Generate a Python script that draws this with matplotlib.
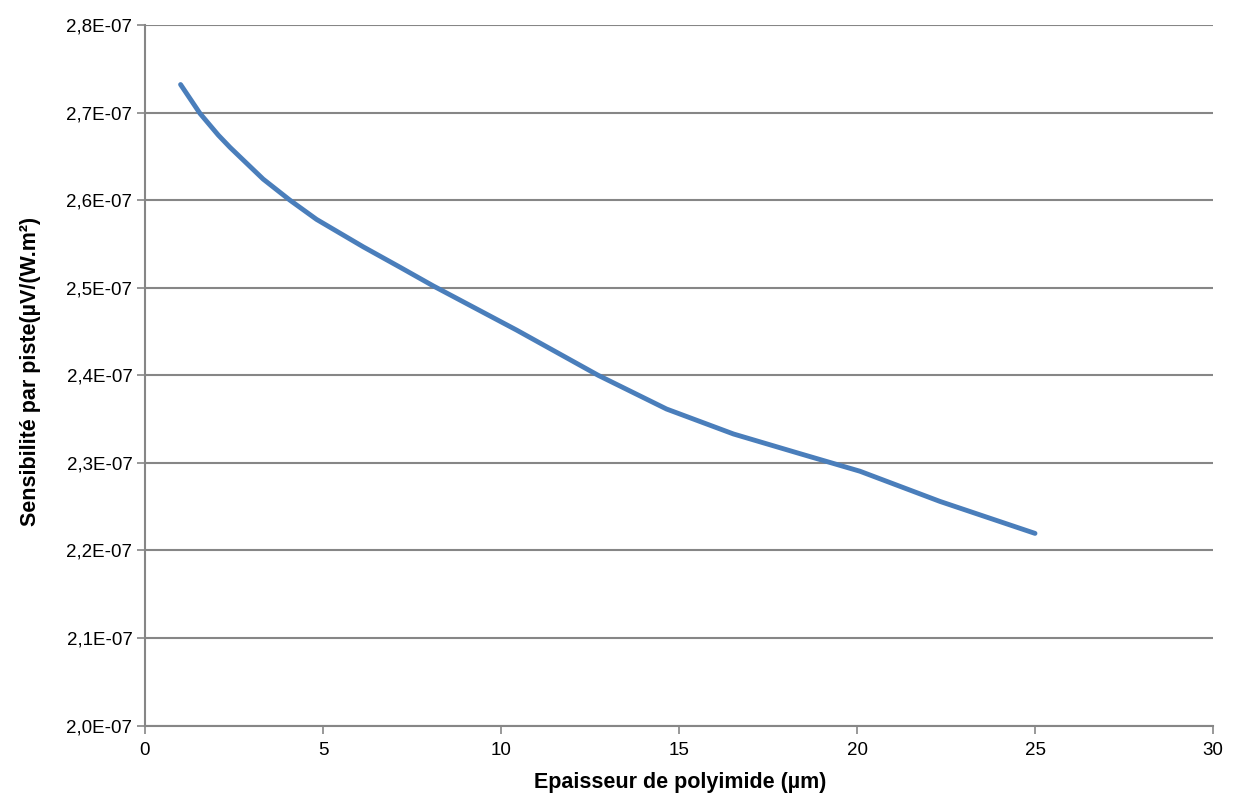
import matplotlib
matplotlib.use("Agg")
import matplotlib.pyplot as plt
from matplotlib.ticker import FuncFormatter, MultipleLocator

# polyimide thickness (um) and sensitivity per track (x 1e-7 uV/(W.m2))
thickness = [1.0, 1.545, 2.06, 2.39, 2.86, 3.32, 4.07, 4.82, 6.13, 7.16,
             8.10, 10.44, 12.73, 14.65, 16.53, 18.40, 20.08, 22.33, 25.0]
sensitivity = [2.732, 2.699, 2.6742, 2.6602, 2.6419, 2.624, 2.600, 2.578,
               2.5467, 2.5235, 2.502, 2.4516, 2.400, 2.3615, 2.3330, 2.3105,
               2.2905, 2.2560, 2.2195]

x_label = "Epaisseur de polyimide (µm)"
y_label = "Sensibilité par piste(µV/(W.m²)"

GRID = "#868686"
LINE = "#4a7ebb"

plt.rcParams["font.family"] = ["Liberation Sans", "DejaVu Sans"]

fig = plt.figure(figsize=(12.36, 7.98), dpi=100)
ax = fig.add_axes([0.1173, 0.0907, 0.8641, 0.8780])

y_vals = [v * 1e-7 for v in sensitivity]
ax.plot(thickness, y_vals, color=LINE, linewidth=3.5, solid_capstyle="round",
        solid_joinstyle="round", zorder=3)

ax.set_xlim(0, 30)
ax.set_ylim(2.0e-7, 2.8e-7)
ax.xaxis.set_major_locator(MultipleLocator(5))
ax.yaxis.set_major_locator(MultipleLocator(0.1e-7))


def sci_comma(v, pos):
    return f"{v / 1e-7:.1f}E-07".replace(".", ",")


ax.yaxis.set_major_formatter(FuncFormatter(sci_comma))
ax.xaxis.set_major_formatter(FuncFormatter(lambda v, p: f"{v:.0f}"))

ax.grid(axis="y", color=GRID, linewidth=1.5, zorder=1)
ax.set_axisbelow(True)
for side in ("top", "right"):
    ax.spines[side].set_visible(False)
for side in ("left", "bottom"):
    ax.spines[side].set_color(GRID)
    ax.spines[side].set_linewidth(1.5)

ax.tick_params(axis="both", direction="out", color=GRID, width=1.2, length=6,
               labelsize=13.5, labelcolor="black")
ax.tick_params(axis="y", pad=3)
ax.tick_params(axis="x", pad=6)

ax.set_xlabel(x_label, fontsize=15.5, fontweight="bold")
ax.set_ylabel(y_label, fontsize=15.5, fontweight="bold")
ax.xaxis.set_label_coords(0.501, -0.066)
ax.yaxis.set_label_coords(-0.097, 0.505)

fig.savefig("out.png", dpi=100, facecolor="white")
